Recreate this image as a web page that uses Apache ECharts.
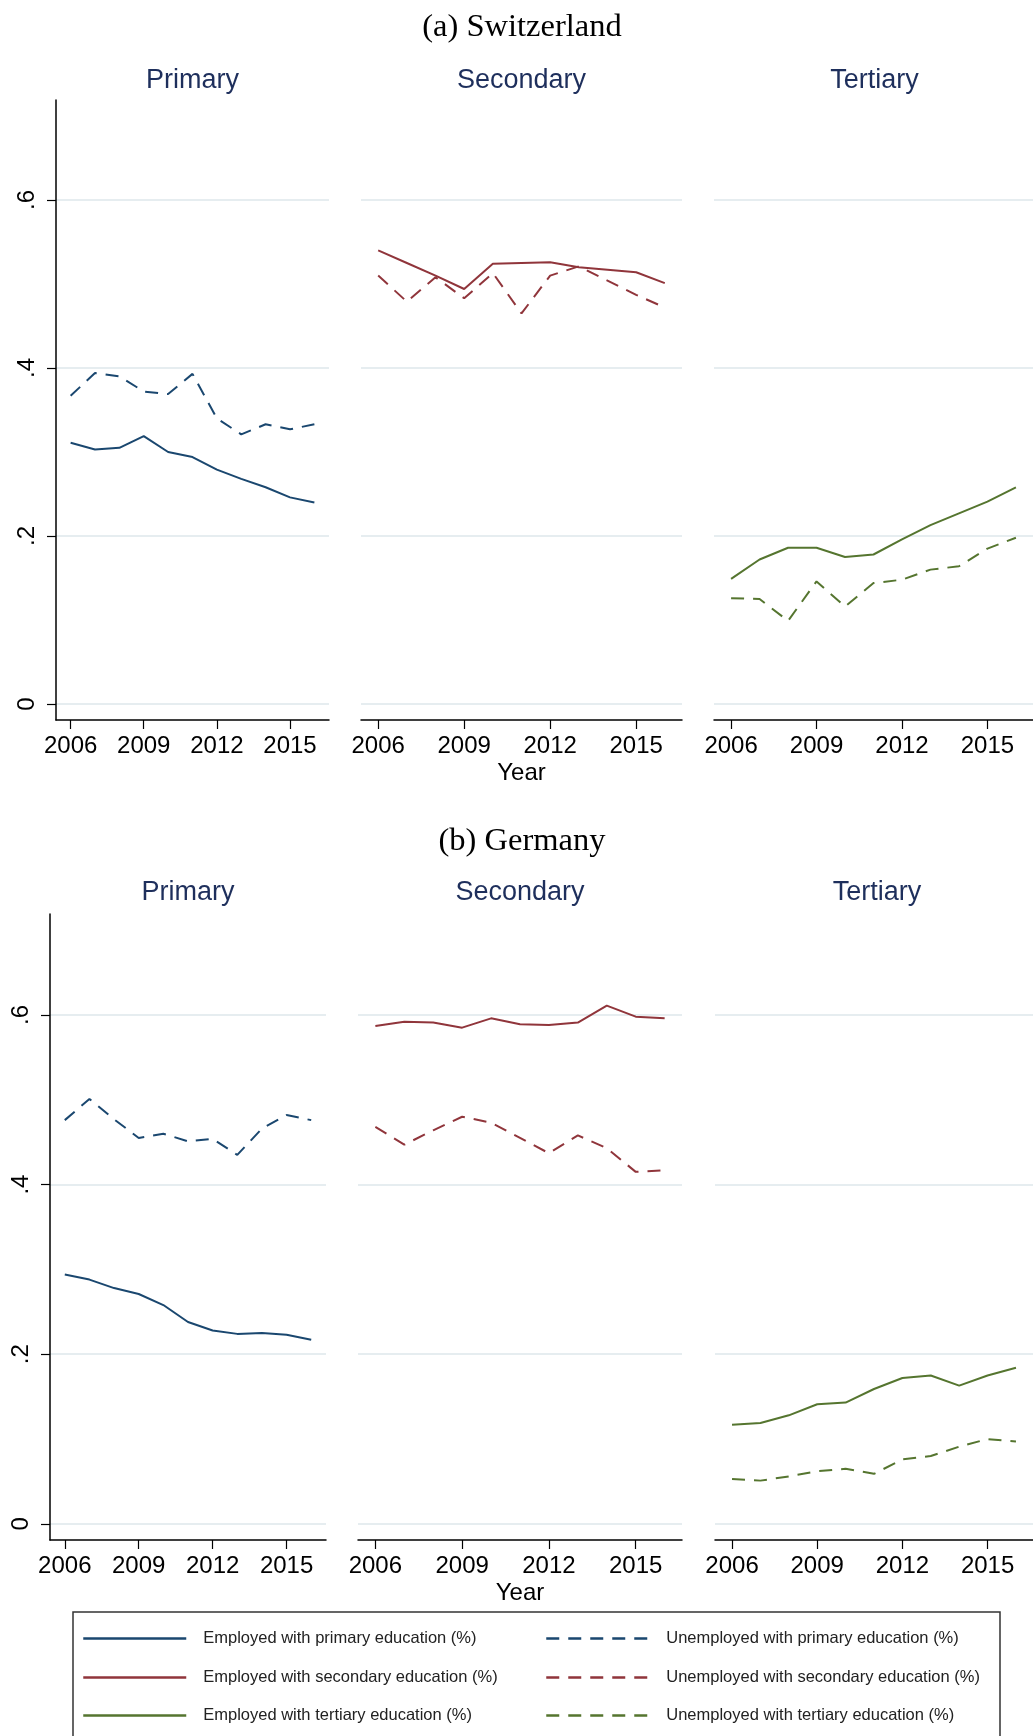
<!DOCTYPE html>
<html>
<head>
<meta charset="utf-8">
<script src="https://cdn.jsdelivr.net/npm/echarts@6/dist/echarts.min.js"></script>
<style>
  html, body { margin: 0; padding: 0; background: #fff; }
  #chart { width: 1033px; height: 1736px; }
</style>
</head>
<body>
<div id="chart"></div>
<script>
// years and axis ticks
const years = [2006, 2007, 2008, 2009, 2010, 2011, 2012, 2013, 2014, 2015, 2016];
const tickYears = [2006, 2009, 2012, 2015];
const shareTicks = [0, 0.2, 0.4, 0.6];

// (a) Switzerland
const chEmpPrimary     = [0.311, 0.303, 0.305, 0.319, 0.300, 0.294, 0.279, 0.268, 0.258, 0.246, 0.240];
const chUnempPrimary   = [0.367, 0.394, 0.390, 0.372, 0.369, 0.393, 0.340, 0.321, 0.333, 0.327, 0.333];
const chEmpSecondary   = [0.540, 0.525, 0.510, 0.494, 0.524, 0.525, 0.526, 0.520, 0.517, 0.514, 0.501];
const chUnempSecondary = [0.510, 0.479, 0.508, 0.483, 0.513, 0.465, 0.510, 0.521, 0.504, 0.487, 0.472];
const chEmpTertiary    = [0.149, 0.172, 0.186, 0.186, 0.175, 0.178, 0.196, 0.213, 0.227, 0.241, 0.258];
const chUnempTertiary  = [0.126, 0.125, 0.099, 0.146, 0.116, 0.144, 0.148, 0.160, 0.164, 0.185, 0.198];

// (b) Germany
const deEmpPrimary     = [0.294, 0.288, 0.278, 0.271, 0.258, 0.238, 0.228, 0.224, 0.225, 0.223, 0.217];
const deUnempPrimary   = [0.476, 0.501, 0.477, 0.455, 0.460, 0.451, 0.454, 0.435, 0.466, 0.482, 0.476];
const deEmpSecondary   = [0.587, 0.592, 0.591, 0.585, 0.596, 0.589, 0.588, 0.591, 0.611, 0.598, 0.596];
const deUnempSecondary = [0.468, 0.447, 0.464, 0.480, 0.473, 0.455, 0.437, 0.458, 0.443, 0.415, 0.417];
const deEmpTertiary    = [0.117, 0.119, 0.128, 0.141, 0.143, 0.159, 0.172, 0.175, 0.163, 0.175, 0.184];
const deUnempTertiary  = [0.053, 0.051, 0.056, 0.062, 0.065, 0.059, 0.076, 0.080, 0.091, 0.100, 0.097];

const levels = ['primary', 'secondary', 'tertiary'];
const levelTitles = ['Primary', 'Secondary', 'Tertiary'];
const colors = ['#1a476f', '#90353b', '#55752f'];

const empName = lv => 'Employed with ' + lv + ' education (%)';
const unempName = lv => 'Unemployed with ' + lv + ' education (%)';

// panel layout (pixels)
const rows = [
    { top: 100, height: 620, titleY: 81, lefts: [56, 361, 714], widths: [273, 321, 321],
      data: [[chEmpPrimary, chUnempPrimary], [chEmpSecondary, chUnempSecondary], [chEmpTertiary, chUnempTertiary]] },
    { top: 914, height: 626, titleY: 893, lefts: [50, 358, 715], widths: [276, 324, 324],
      data: [[deEmpPrimary, deUnempPrimary], [deEmpSecondary, deUnempSecondary], [deEmpTertiary, deUnempTertiary]] }
];

const FONT = "'Liberation Sans', Arial, sans-serif";
const SERIF = "'Liberation Serif', 'Times New Roman', serif";
const pairs = arr => years.map((y, i) => [y, arr[i]]);

const grid = [], xAxis = [], yAxis = [], series = [], graphic = [];

rows.forEach((row, r) => {
    levels.forEach((lv, c) => {
        const idx = grid.length;
        grid.push({ left: row.lefts[c], top: row.top, width: row.widths[c], height: row.height, containLabel: false });

        xAxis.push({
            type: 'value', gridIndex: idx, min: 2005.4, max: 2016.6,
            name: c === 1 ? 'Year' : '', nameLocation: 'middle', nameGap: 41,
            nameTextStyle: { fontFamily: FONT, fontSize: 24, color: '#000' },
            axisLine: { show: true, onZero: false, lineStyle: { color: '#000', width: 1.5 } },
            axisTick: { show: true, length: 9, customValues: tickYears, lineStyle: { color: '#000', width: 1.2 } },
            axisLabel: {
                show: true, customValues: tickYears, margin: 14,
                fontFamily: FONT, fontSize: 24, color: '#000',
                formatter: v => String(v)
            },
            splitLine: { show: false }
        });

        yAxis.push({
            type: 'value', gridIndex: idx, min: -0.019, max: 0.719,
            axisLine: { show: c === 0, onZero: false, lineStyle: { color: '#000', width: 1.5 } },
            axisTick: { show: c === 0, length: 9, customValues: shareTicks, lineStyle: { color: '#000', width: 1.2 } },
            axisLabel: {
                show: c === 0, customValues: shareTicks, rotate: 90, margin: 17,
                fontFamily: FONT, fontSize: 24, color: '#000',
                formatter: v => v === 0 ? '0' : v.toFixed(1).replace(/^0/, '')
            },
            splitLine: { show: true, lineStyle: { color: '#e6edf0', width: 2 } }
        });

        const [emp, unemp] = row.data[c];
        series.push({
            name: empName(lv), type: 'line', xAxisIndex: idx, yAxisIndex: idx,
            data: pairs(emp), symbol: 'none', silent: true,
            lineStyle: { color: colors[c], width: 2 }, itemStyle: { color: colors[c] }
        });
        series.push({
            name: unempName(lv), type: 'line', xAxisIndex: idx, yAxisIndex: idx,
            data: pairs(unemp), symbol: 'none', silent: true,
            lineStyle: { color: colors[c], width: 2, type: [13, 9] }, itemStyle: { color: colors[c] }
        });

        // panel subtitle
        graphic.push({
            type: 'text', x: row.lefts[c] + row.widths[c] / 2, y: row.titleY,
            style: { text: levelTitles[c], fill: '#1e2f5c', font: '27px ' + FONT, textAlign: 'center', textVerticalAlign: 'middle' }
        });
    });
});

// figure titles
graphic.push({
    type: 'text', x: 522, y: 27,
    style: { text: '(a) Switzerland', fill: '#000', font: '32.5px ' + SERIF, textAlign: 'center', textVerticalAlign: 'middle' }
});
graphic.push({
    type: 'text', x: 522, y: 841,
    style: { text: '(b) Germany', fill: '#000', font: '32.5px ' + SERIF, textAlign: 'center', textVerticalAlign: 'middle' }
});

// legend frame
graphic.push({
    type: 'rect', shape: { x: 73, y: 1612, width: 927, height: 140 },
    style: { fill: 'none', stroke: '#333', lineWidth: 1.5 }, silent: true
});

const legendRows = [1637, 1676, 1714];
const legendCols = [77, 540];
const legend = [];
levels.forEach((lv, i) => {
    [empName(lv), unempName(lv)].forEach((nm, j) => {
        legend.push({
            data: [nm], left: legendCols[j], top: legendRows[i] - 12,
            itemWidth: 103, itemHeight: 18, selectedMode: false,
            itemStyle: { opacity: 0 },
            lineStyle: { width: 2.5 },
            textStyle: { fontFamily: FONT, fontSize: 16.5, color: '#222', padding: [0, 0, 0, 12] }
        });
    });
});

const chart = echarts.init(document.getElementById('chart'));
chart.setOption({
    backgroundColor: '#fff',
    animation: false,
    grid: grid,
    xAxis: xAxis,
    yAxis: yAxis,
    legend: legend,
    graphic: graphic,
    series: series
});
</script>
</body>
</html>
